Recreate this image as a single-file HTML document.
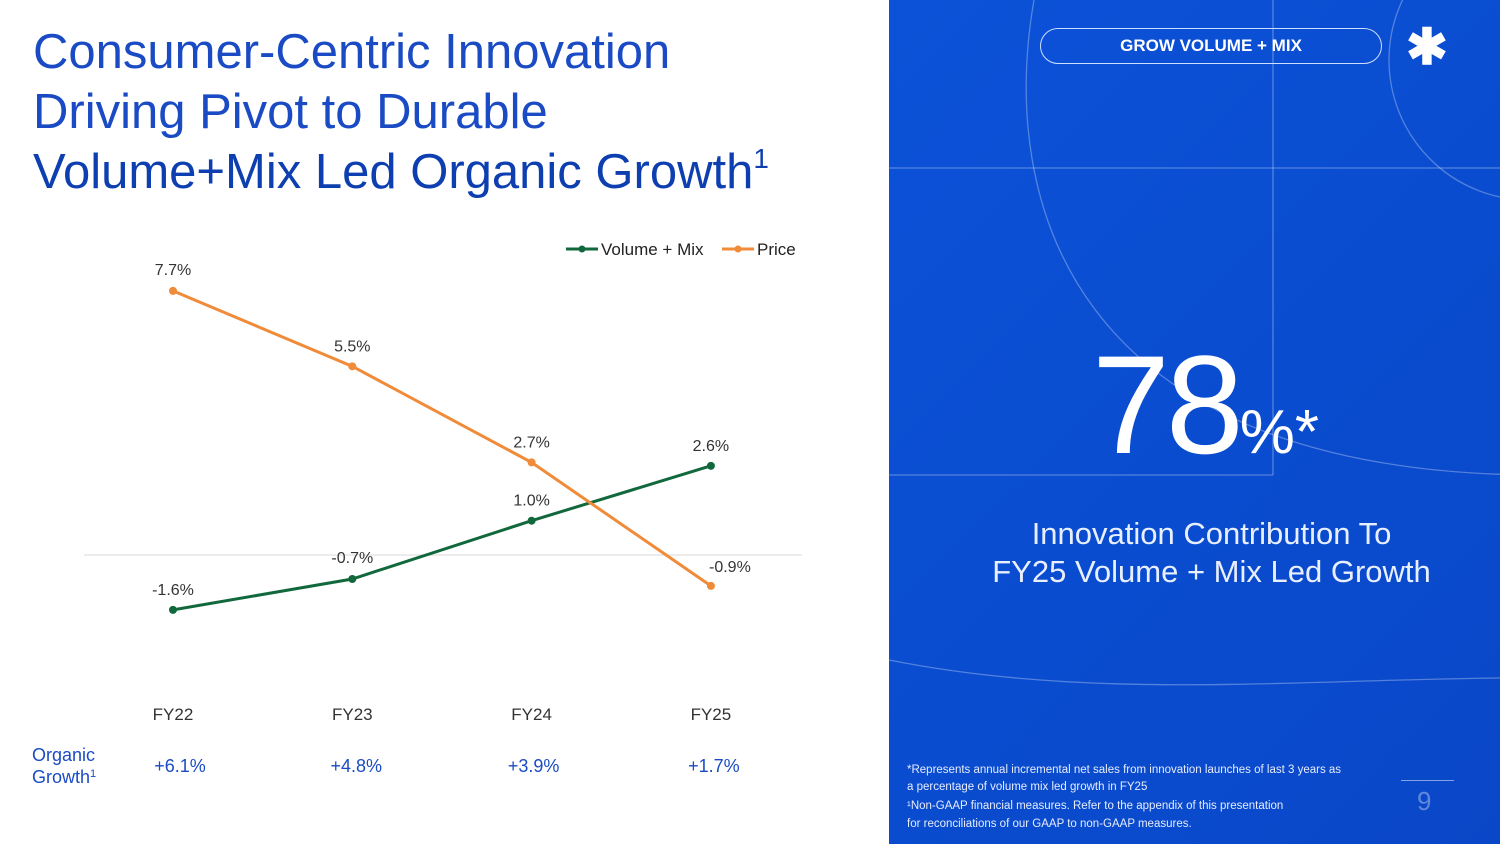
<!DOCTYPE html>
<html><head><meta charset="utf-8"><style>
body{margin:0;width:1500px;height:844px;overflow:hidden;background:#fff;font-family:"Liberation Sans",sans-serif;position:relative}
.t{position:absolute;white-space:nowrap}
sup{line-height:0;vertical-align:0;position:relative}
</style></head><body>
<div class="t" style="left:33px;top:22px;font-size:49px;line-height:60px;color:#1a4bc4;font-weight:300">Consumer-Centric Innovation<br>Driving Pivot to Durable<br><span style="color:#0d3fb0">Volume+Mix Led Organic Growth<sup style="font-size:28px;top:-20px">1</sup></span></div>

<svg id="chart" width="889" height="844" style="position:absolute;left:0;top:0">
<g font-size="17" fill="#222">
<line x1="566" y1="249" x2="598" y2="249" stroke="#12683d" stroke-width="3"/><circle cx="582" cy="249" r="3.5" fill="#12683d"/>
<text x="601" y="255">Volume + Mix</text>
<line x1="722" y1="249" x2="754" y2="249" stroke="#f08b3a" stroke-width="3"/><circle cx="738" cy="249" r="3.5" fill="#f08b3a"/>
<text x="757" y="255">Price</text>
</g>
<line x1="84" y1="555" x2="802" y2="555" stroke="#d9d9d9"/>
<g id="marks"></g>
</svg>

<div class="t" style="left:32px;top:744px;font-size:18px;line-height:22px;color:#1a4bc4">Organic<br>Growth<sup style="font-size:11px;top:-6px">1</sup></div>
<div id="og"></div>

<div style="position:absolute;left:889px;top:0;width:611px;height:844px;background:linear-gradient(135deg,#0b52d8,#0a47c8);overflow:hidden">
<svg width="611" height="844" style="position:absolute;left:0;top:0">
<g stroke="rgba(255,255,255,0.3)" fill="none" stroke-width="1.3">
<line x1="384" y1="0" x2="384" y2="475"/>
<line x1="0" y1="168" x2="611" y2="168"/>
<line x1="0" y1="475" x2="384" y2="475"/>
<circle cx="640" cy="60" r="140"/>
<path d="M145 0 C110 200 180 470 640 475"/>
<path d="M0 660 C200 700 400 680 611 678"/>
</g>
</svg>
<div class="t" style="left:151px;top:28px;width:340px;height:34px;border:1.5px solid #cfe0ff;border-radius:18px;color:#fff;font-weight:bold;font-size:17px;text-align:center;line-height:34px">GROW VOLUME + MIX</div>
<div class="t" style="left:517px;top:22px;font-size:50px;color:#fff;font-weight:bold;line-height:50px">✱</div>
<div class="t" style="left:203px;top:330px;font-size:140px;color:#fff;line-height:150px;letter-spacing:-4px">78<span style="font-size:62px;letter-spacing:0">%*</span></div>
<div class="t" style="left:0;width:645px;top:515px;font-size:31px;line-height:38px;color:#e8efff;text-align:center;font-weight:300">Innovation Contribution To<br>FY25 Volume + Mix Led Growth</div>
<div class="t" style="left:18px;top:762px;font-size:11.5px;line-height:17px;color:#e6ecff">*Represents annual incremental net sales from innovation launches of last 3 years as<br>a percentage of volume mix led growth in FY25<br><span style="line-height:20px">¹Non-GAAP financial measures. Refer to the appendix of this presentation</span><br>for reconciliations of our GAAP to non-GAAP measures.</div>
<div style="position:absolute;left:512px;top:780px;width:53px;height:1px;background:rgba(255,255,255,0.5)"></div>
<div class="t" style="left:528px;top:786px;font-size:26px;color:rgba(255,255,255,0.35)">9</div>
</div>

<script>
const categories=["FY22","FY23","FY24","FY25"];
const volumeMix=[-1.6,-0.7,1.0,2.6];
const price=[7.7,5.5,2.7,-0.9];
const organicGrowth=["+6.1%","+4.8%","+3.9%","+1.7%"];
const NS="http://www.w3.org/2000/svg";
const xs=i=>173+i*179.3;
const ys=v=>555-v*34.3;
const g=document.getElementById('marks');
function series(vals,color,name,labelOffsets){
  const pl=document.createElementNS(NS,'polyline');
  pl.setAttribute('points',vals.map((v,i)=>xs(i)+','+ys(v)).join(' '));
  pl.setAttribute('fill','none');pl.setAttribute('stroke',color);pl.setAttribute('stroke-width','3');
  
  
  g.appendChild(pl);
  vals.forEach((v,i)=>{
    const c=document.createElementNS(NS,'circle');
    c.setAttribute('cx',xs(i));c.setAttribute('cy',ys(v));c.setAttribute('r','4');c.setAttribute('fill',color);
    
    
    g.appendChild(c);
    const t=document.createElementNS(NS,'text');
    t.setAttribute('x',xs(i)+labelOffsets[i][0]);t.setAttribute('y',ys(v)+labelOffsets[i][1]);
    t.setAttribute('text-anchor','middle');t.setAttribute('font-size','16');t.setAttribute('fill','#333');
    t.textContent=v.toFixed(1)+'%';
    
    
    g.appendChild(t);
  });
}
series(volumeMix,'#12683d','volume-mix',[[0,-15],[0,-16],[0,-15],[0,-15]]);
series(price,'#f08b3a','price',[[0,-16],[0,-15],[0,-15],[19,-14]]);
categories.forEach((c,i)=>{
  const t=document.createElementNS(NS,'text');
  t.setAttribute('x',xs(i));t.setAttribute('y',720);t.setAttribute('text-anchor','middle');
  t.setAttribute('font-size','17');t.setAttribute('fill','#333');t.textContent=c;
  
  
  document.getElementById('chart').appendChild(t);
});
const og=document.getElementById('og');
organicGrowth.forEach((v,i)=>{
  const d=document.createElement('div');
  d.className='t';d.textContent=v;
  d.style.cssText='left:'+(xs(i)-40+[7,4,2,3][i])+'px;width:80px;text-align:center;top:756px;font-size:18px;color:#1a4bc4';
  
  
  og.appendChild(d);
});
</script>
</body></html>
